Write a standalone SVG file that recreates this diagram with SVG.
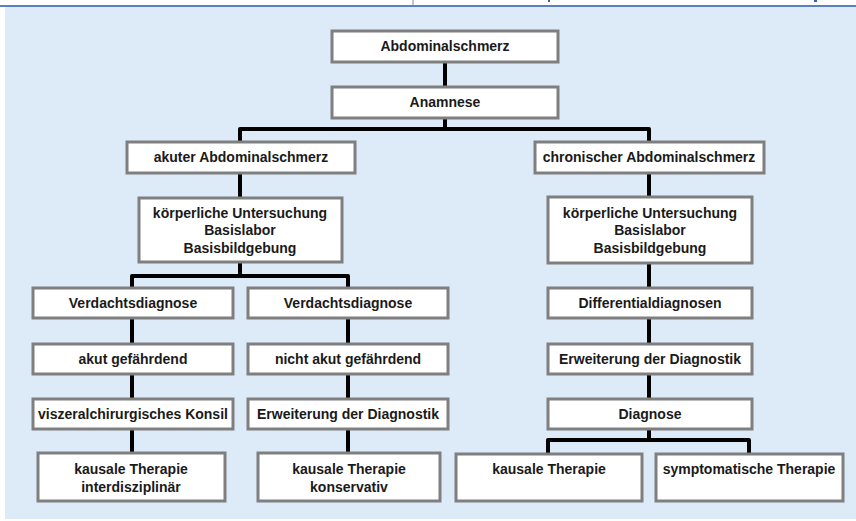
<svg xmlns="http://www.w3.org/2000/svg" width="856" height="521" viewBox="0 0 856 521">
<style>
.box{fill:#ffffff;stroke:#7f7f7f;stroke-width:3}
.t{font-family:"Liberation Sans",Arial,sans-serif;font-weight:bold;font-size:14px;fill:#1a1a1a;text-anchor:middle}
.c{fill:none;stroke:#000000;stroke-width:4;stroke-linejoin:round}
</style>
<rect x="0" y="0" width="856" height="521" fill="#ffffff"/>
<rect x="5" y="7" width="851" height="512" fill="#ddebf8"/>
<rect x="0" y="5" width="856" height="2" fill="#5b7fbf"/>
<rect x="412.5" y="0" width="1" height="5" fill="#7f8fa8"/>
<rect x="548" y="0" width="2" height="2" fill="#3b5fbf"/>
<rect x="814" y="0" width="3" height="2" fill="#3b5fbf"/>
<g id="connectors">
<path class="c" d="M445 62V86"/>
<path class="c" d="M445 118V129M240 141V129H649V141"/>
<path class="c" d="M240 173V197"/>
<path class="c" d="M240 262V276M132 287V276H348V287"/>
<path class="c" d="M132 318V343M132 374V398M132 429V452"/>
<path class="c" d="M348 318V343M348 374V398M348 429V452"/>
<path class="c" d="M649 173V196M649 263V287M649 318V343M649 374V398"/>
<path class="c" d="M649 429V440M548 453V440H749V453"/>
</g>
<g id="n_abdominalschmerz"><rect class="box" x="332" y="31" width="226" height="31"/><text class="t" x="445" y="51">Abdominalschmerz</text></g>
<g id="n_anamnese"><rect class="box" x="332" y="87" width="226" height="31"/><text class="t" x="445" y="107">Anamnese</text></g>
<g id="n_akut"><rect class="box" x="127" y="142" width="228" height="31"/><text class="t" x="241" y="162">akuter Abdominalschmerz</text></g>
<g id="n_chronisch"><rect class="box" x="535" y="142" width="229" height="31"/><text class="t" x="649" y="162">chronischer Abdominalschmerz</text></g>
<g id="n_koerper_l"><rect class="box" x="139" y="198" width="203" height="64"/><text class="t" x="240" y="218">körperliche Untersuchung</text><text class="t" x="240" y="235">Basislabor</text><text class="t" x="240" y="253">Basisbildgebung</text></g>
<g id="n_koerper_r"><rect class="box" x="548" y="197" width="204" height="66"/><text class="t" x="650" y="218">körperliche Untersuchung</text><text class="t" x="650" y="235">Basislabor</text><text class="t" x="650" y="253">Basisbildgebung</text></g>
<g id="n_verdacht_1"><rect class="box" x="33" y="288" width="200" height="30"/><text class="t" x="133" y="308">Verdachtsdiagnose</text></g>
<g id="n_verdacht_2"><rect class="box" x="248" y="288" width="200" height="30"/><text class="t" x="348" y="308">Verdachtsdiagnose</text></g>
<g id="n_differential"><rect class="box" x="548" y="288" width="204" height="30"/><text class="t" x="650" y="308">Differentialdiagnosen</text></g>
<g id="n_akut_gef"><rect class="box" x="33" y="344" width="200" height="30"/><text class="t" x="133" y="364">akut gefährdend</text></g>
<g id="n_nicht_akut"><rect class="box" x="248" y="344" width="200" height="30"/><text class="t" x="348" y="364">nicht akut gefährdend</text></g>
<g id="n_erweiterung_r"><rect class="box" x="548" y="344" width="204" height="30"/><text class="t" x="650" y="364">Erweiterung der Diagnostik</text></g>
<g id="n_konsil"><rect class="box" x="33" y="399" width="200" height="30"/><text class="t" x="133" y="419">viszeralchirurgisches Konsil</text></g>
<g id="n_erweiterung_l"><rect class="box" x="248" y="399" width="200" height="30"/><text class="t" x="348" y="419">Erweiterung der Diagnostik</text></g>
<g id="n_diagnose"><rect class="box" x="548" y="399" width="204" height="30"/><text class="t" x="650" y="419">Diagnose</text></g>
<g id="n_kausal_inter"><rect class="box" x="38" y="453" width="187" height="48"/><text class="t" x="131" y="474">kausale Therapie</text><text class="t" x="131" y="492">interdisziplinär</text></g>
<g id="n_kausal_kons"><rect class="box" x="258" y="453" width="182" height="48"/><text class="t" x="349" y="474">kausale Therapie</text><text class="t" x="349" y="492">konservativ</text></g>
<g id="n_kausal"><rect class="box" x="456" y="454" width="186" height="47"/><text class="t" x="549" y="474">kausale Therapie</text></g>
<g id="n_symptomatisch"><rect class="box" x="656" y="454" width="187" height="47"/><text class="t" x="749" y="474">symptomatische Therapie</text></g>
</svg>
